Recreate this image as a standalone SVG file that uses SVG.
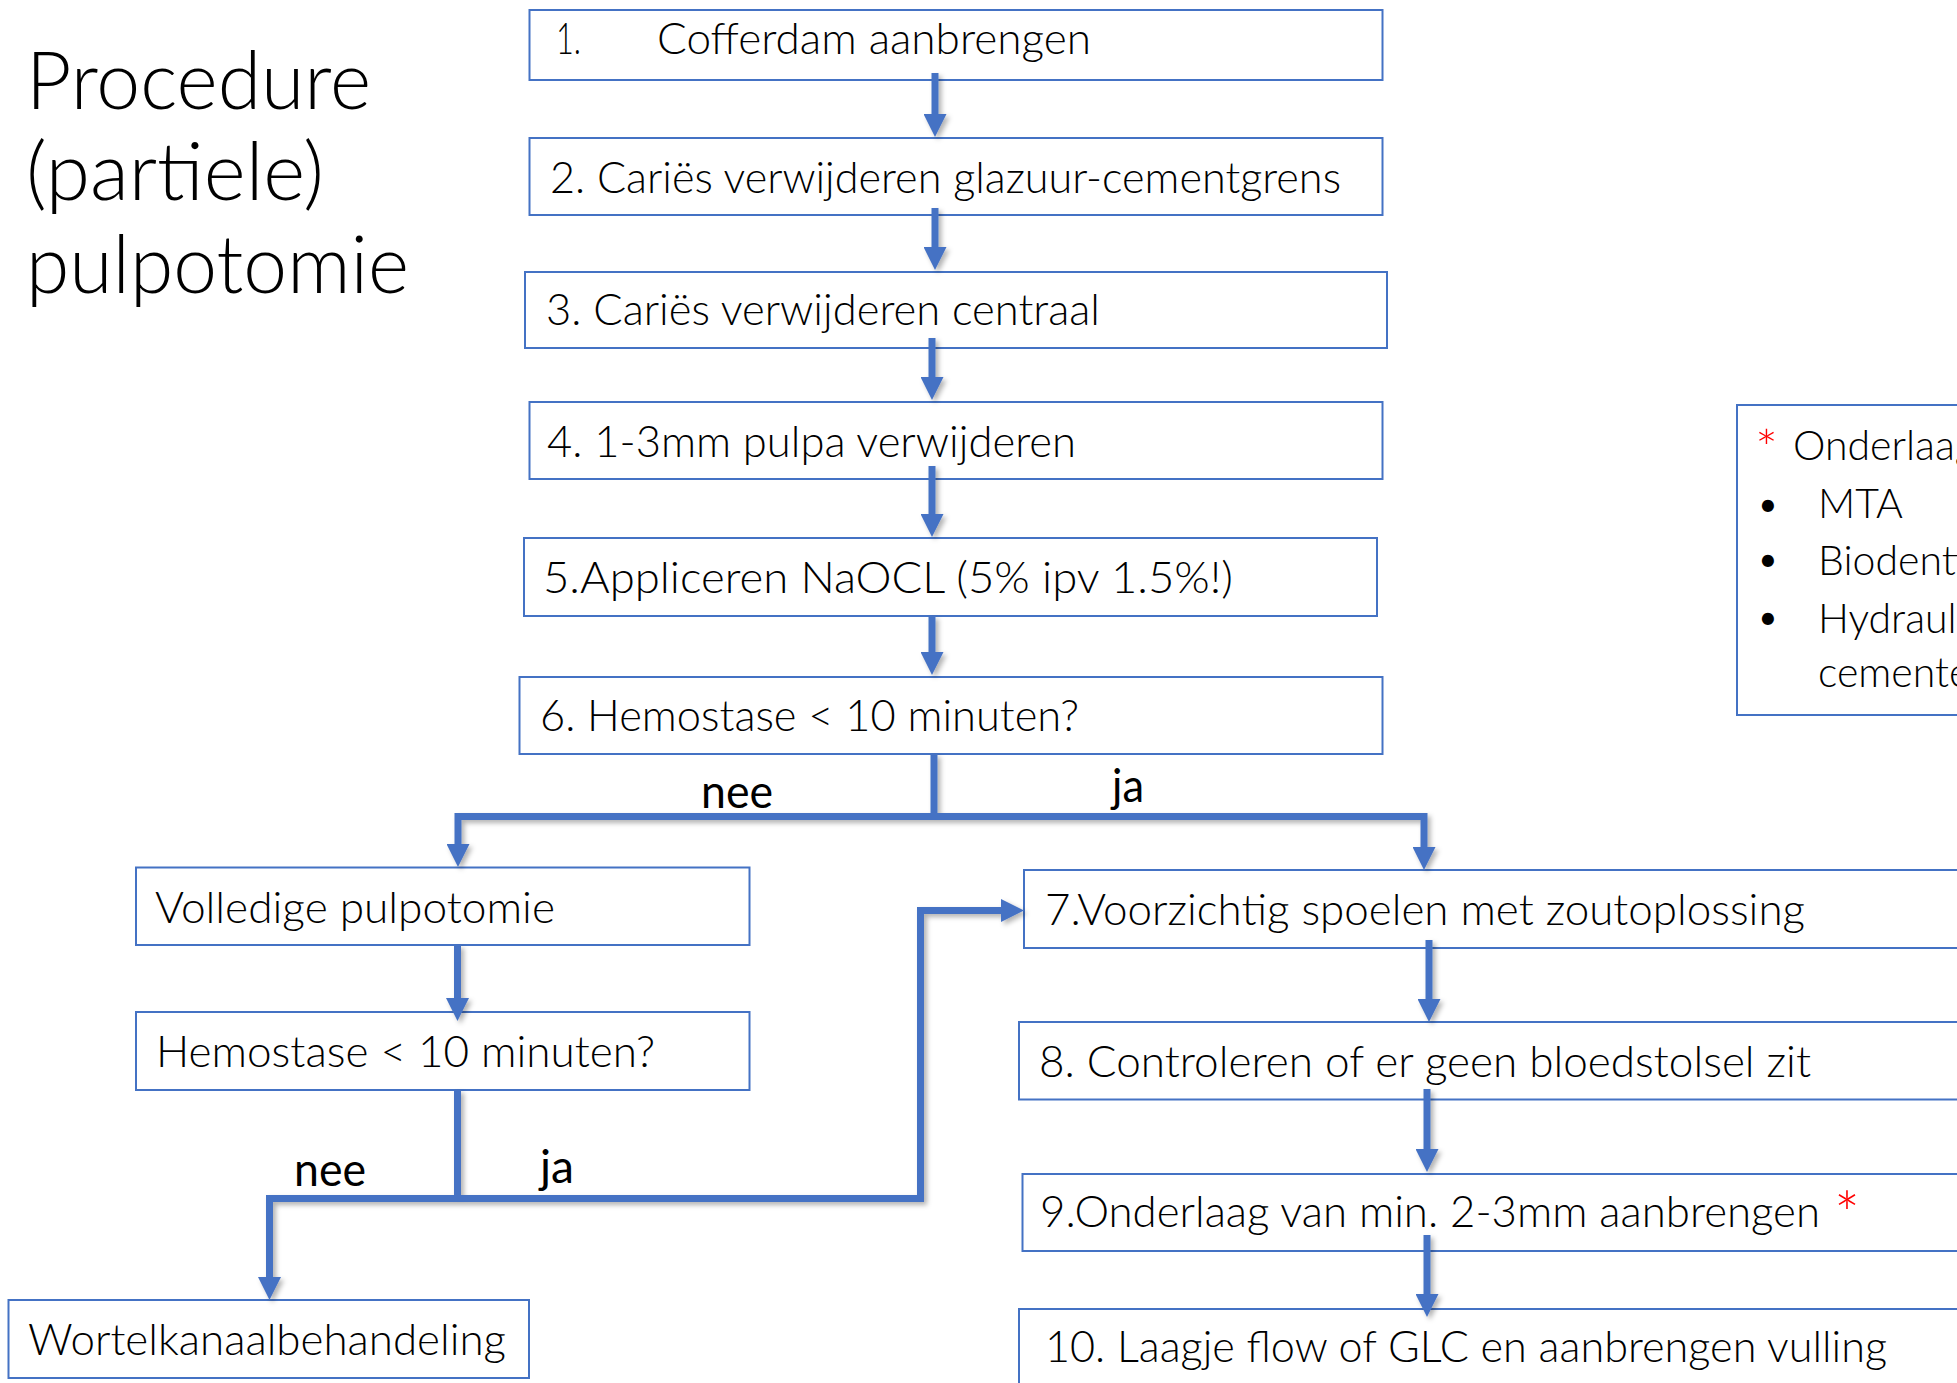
<svg xmlns="http://www.w3.org/2000/svg" width="1957" height="1383" viewBox="0 0 1957 1383">
<defs>
<style>
.box{fill:#fff;stroke:#4472C4;stroke-width:2}
.t{font-family:"Lato","Open Sans","Liberation Sans",sans-serif;font-weight:300;font-size:43px;fill:#000}
.title{font-family:"Lato","Open Sans","Liberation Sans",sans-serif;font-weight:300;font-size:80px;fill:#000}
.lbl{font-family:"Lato","Open Sans","Liberation Sans",sans-serif;font-weight:400;font-size:46px;fill:#000}
.leg{font-family:"Lato","Open Sans","Liberation Sans",sans-serif;font-weight:300;font-size:41px;fill:#000}
.red{font-family:"Lato","Open Sans","Liberation Sans",sans-serif;font-weight:300;fill:#FF0000}
.c{fill:none;stroke:#4472C4;stroke-width:7;stroke-linejoin:miter;stroke-linecap:butt}
.ca{fill:none;stroke:#4472C4;stroke-width:7;stroke-linejoin:miter;stroke-linecap:butt;marker-end:url(#ah)}
</style>
<marker id="ah" viewBox="0 0 23 23" markerWidth="23" markerHeight="23" refX="0" refY="11.5" orient="auto" markerUnits="userSpaceOnUse">
<path d="M0,0 L23,11.5 L0,23 z" fill="#4472C4"/>
</marker>
<filter id="sh" filterUnits="userSpaceOnUse" x="0" y="0" width="1957" height="1383">
<feDropShadow dx="3" dy="3" stdDeviation="2.5" flood-color="#000" flood-opacity="0.3"/>
</filter>
</defs>
<rect width="1957" height="1383" fill="#fff"/>

<g id="title">
<text class="title" x="26" y="109" textLength="345" lengthAdjust="spacingAndGlyphs">Procedure</text>
<text class="title" x="26" y="200" textLength="298" lengthAdjust="spacingAndGlyphs">(partiele)</text>
<text class="title" x="26" y="293" textLength="383" lengthAdjust="spacingAndGlyphs">pulpotomie</text>
</g>

<g id="n1"><rect class="box" x="529.5" y="10" width="853" height="70"/>
<text class="t" x="556" y="54" textLength="25" lengthAdjust="spacingAndGlyphs">1.</text>
<text class="t" x="657" y="54" textLength="434" lengthAdjust="spacingAndGlyphs">Cofferdam aanbrengen</text></g>
<g id="n2"><rect class="box" x="529.5" y="138" width="853" height="77"/>
<text class="t" x="550" y="193" textLength="791" lengthAdjust="spacingAndGlyphs">2. Cariës verwijderen glazuur-cementgrens</text></g>
<g id="n3"><rect class="box" x="525" y="272" width="862" height="76"/>
<text class="t" x="546" y="325" textLength="554" lengthAdjust="spacingAndGlyphs">3. Cariës verwijderen centraal</text></g>
<g id="n4"><rect class="box" x="529.5" y="402" width="853" height="77"/>
<text class="t" x="547" y="457" textLength="529" lengthAdjust="spacingAndGlyphs">4. 1-3mm pulpa verwijderen</text></g>
<g id="n5"><rect class="box" x="524" y="538" width="853" height="78"/>
<text class="t" x="543" y="593" textLength="690" lengthAdjust="spacingAndGlyphs">5.Appliceren NaOCL (5% ipv 1.5%!)</text></g>
<g id="n6"><rect class="box" x="519.5" y="677" width="863" height="77"/>
<text class="t" x="540" y="731" textLength="539" lengthAdjust="spacingAndGlyphs">6. Hemostase &lt; 10 minuten?</text></g>
<g id="nV"><rect class="box" x="136" y="867.5" width="613.5" height="77.5"/>
<text class="t" x="155" y="923" textLength="400" lengthAdjust="spacingAndGlyphs">Volledige pulpotomie</text></g>
<g id="nH"><rect class="box" x="136" y="1012" width="613.5" height="78"/>
<text class="t" x="156" y="1067" textLength="499" lengthAdjust="spacingAndGlyphs">Hemostase &lt; 10 minuten?</text></g>
<g id="nW"><rect class="box" x="8.5" y="1300" width="520.5" height="78"/>
<text class="t" x="28" y="1355" textLength="478" lengthAdjust="spacingAndGlyphs">Wortelkanaalbehandeling</text></g>
<g id="n7"><rect class="box" x="1024" y="870" width="980" height="78"/>
<text class="t" x="1045" y="925" textLength="760" lengthAdjust="spacingAndGlyphs">7.Voorzichtig spoelen met zoutoplossing</text></g>
<g id="n8"><rect class="box" x="1019" y="1022" width="985" height="77.5"/>
<text class="t" x="1039" y="1077" textLength="772" lengthAdjust="spacingAndGlyphs">8. Controleren of er geen bloedstolsel zit</text></g>
<g id="n9"><rect class="box" x="1022.5" y="1174" width="982" height="77"/>
<text class="t" x="1040" y="1227" textLength="780" lengthAdjust="spacingAndGlyphs">9.Onderlaag van min. 2-3mm aanbrengen</text>
<text class="red" x="1834" y="1237" font-size="64" textLength="26" lengthAdjust="spacingAndGlyphs">*</text></g>
<g id="n10"><rect class="box" x="1019" y="1309" width="985" height="100"/>
<text class="t" x="1045" y="1362" textLength="842" lengthAdjust="spacingAndGlyphs">10. Laagje flow of GLC en aanbrengen vulling</text></g>

<g id="legend"><rect class="box" x="1737" y="405" width="267" height="310"/>
<text class="red" x="1755" y="467" font-size="52" textLength="23" lengthAdjust="spacingAndGlyphs">*</text>
<text class="leg" x="1793" y="460">Onderlaag</text>
<text class="leg" x="1756" y="518">•</text><text class="leg" x="1818" y="518">MTA</text>
<text class="leg" x="1756" y="573">•</text><text class="leg" x="1818" y="575">Biodentine</text>
<text class="leg" x="1756" y="631">•</text><text class="leg" x="1818" y="633">Hydraulische</text>
<text class="leg" x="1818" y="687">cementen</text>
</g>

<g id="connectors" filter="url(#sh)">
<path class="ca" d="M935,73 V114"/>
<path class="ca" d="M935,208 V247"/>
<path class="ca" d="M932,338 V377"/>
<path class="ca" d="M932,466 V514"/>
<path class="ca" d="M932,616 V652"/>
<path class="c" d="M934,754 V820"/>
<path class="ca" d="M934,816.5 H458 V844"/>
<path class="ca" d="M934,816.5 H1424 V847"/>
<path class="ca" d="M457.5,945 V998"/>
<path class="c" d="M457.5,1090 V1202"/>
<path class="ca" d="M457.5,1198.5 H269.5 V1277"/>
<path class="ca" d="M457.5,1198.5 H920.5 V910.5 H1001"/>
<path class="ca" d="M1429,940 V999"/>
<path class="ca" d="M1427,1089 V1149"/>
<path class="ca" d="M1427,1235 V1294"/>
</g>

<g id="labels">
<text class="lbl" x="701" y="808" textLength="72" lengthAdjust="spacingAndGlyphs">nee</text>
<text class="lbl" x="1112" y="802" textLength="32" lengthAdjust="spacingAndGlyphs">ja</text>
<text class="lbl" x="294" y="1186" textLength="72" lengthAdjust="spacingAndGlyphs">nee</text>
<text class="lbl" x="540" y="1183" textLength="34" lengthAdjust="spacingAndGlyphs">ja</text>
</g>
</svg>
